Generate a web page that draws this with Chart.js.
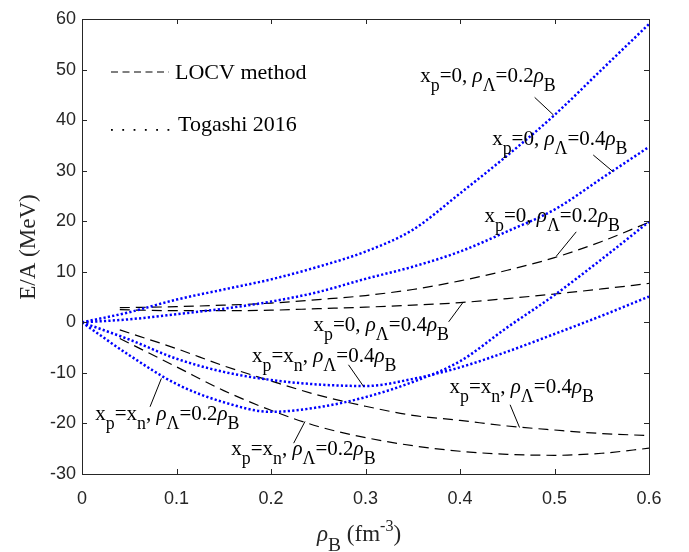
<!DOCTYPE html>
<html>
<head>
<meta charset="utf-8">
<script src="https://cdn.jsdelivr.net/npm/chart.js@4/dist/chart.umd.min.js"></script>
<style>
  html, body { margin: 0; padding: 0; background: #fff; }
  #wrap { width: 689px; height: 552px; }
</style>
</head>
<body>
<div id="wrap"><canvas id="myChart" width="689" height="552"></canvas></div>
<script>
'use strict'

// densities (fm^-3)
const rhoTogashi = [0, 0.05, 0.1, 0.15, 0.2, 0.25, 0.3, 0.35, 0.4, 0.45, 0.5, 0.55, 0.6];
const rhoLocv = [0.04, 0.1, 0.15, 0.2, 0.25, 0.3, 0.35, 0.4, 0.45, 0.5, 0.55, 0.6];

// Togashi 2016 (blue dotted)
const togashiNeut02 = [0, 2.0, 4.5, 6.5, 8.5, 11, 14, 18.3, 25.5, 33, 41, 50, 59];
const togashiNeut04 = [0, 0.6, 1.6, 2.7, 4.1, 6, 8.6, 11, 14, 18, 22.3, 28.5, 34.7];
const togashiSym04 = [0, -3.4, -7.2, -9.8, -11.4, -12.3, -12.6, -11.2, -8.9, -5.8, -2.3, 1.3, 5.1];
const togashiSym02 = [0, -6.5, -12.2, -15.8, -17.7, -16.8, -14.8, -11.8, -7.7, -1, 5.4, 12.5, 19.9];

// LOCV method (black dashed)
const locvNeut02 = [2.9, 3.1, 3.4, 3.8, 4.5, 5.3, 6.5, 8.2, 10.3, 12.8, 16, 19.8];
const locvNeut04 = [2.5, 2.3, 2.3, 2.4, 2.7, 3.0, 3.4, 3.9, 4.7, 5.6, 6.6, 7.7];
const locvSym04 = [-1.5, -5.2, -8.6, -11.6, -14.4, -16.6, -18.4, -19.4, -20.5, -21.3, -22, -22.4];
const locvSym02 = [-3.2, -8.8, -13.5, -17.4, -20.6, -22.8, -24.4, -25.5, -26.1, -26.3, -25.9, -24.9];

const xTicks = [0, 0.1, 0.2, 0.3, 0.4, 0.5, 0.6];
const yTicks = [-30, -20, -10, 0, 10, 20, 30, 40, 50, 60];

const legendNames = ['LOCV method', 'Togashi 2016'];

// curve labels: text anchor and leader line, in data units
const curveLabels = [
  { xp: '0', lam: '0.2', at: [0.358, 47.6], from: [0.479, 44.5], to: [0.499, 41.0] },
  { xp: '0', lam: '0.4', at: [0.434, 35.1], from: [0.541, 33.1], to: [0.562, 29.8] },
  { xp: '0', lam: '0.2', at: [0.426, 19.8], from: [0.523, 17.9], to: [0.502, 13.1] },
  { xp: '0', lam: '0.4', at: [0.245, -1.8], from: [0.388, 0.1], to: [0.403, 3.9] },
  { xp: 'x', lam: '0.4', at: [0.180, -7.8], from: [0.282, -8.4], to: [0.298, -12.7] },
  { xp: 'x', lam: '0.2', at: [0.014, -19.3], from: [0.072, -16.7], to: [0.084, -11.1] },
  { xp: 'x', lam: '0.2', at: [0.158, -26.2], from: [0.224, -23.9], to: [0.236, -19.6] },
  { xp: 'x', lam: '0.4', at: [0.389, -14.0], from: [0.453, -16.3], to: [0.463, -20.8] }
];

const SERIF = '"Liberation Serif", "DejaVu Serif", serif';
const SANS = '"Liberation Sans", Arial, sans-serif';
const AXIS = '#262626';

function pts(xs, ys) {
  return xs.map((x, i) => ({ x: x, y: ys[i] }));
}

function togashiSet(ys) {
  return {
    data: pts(rhoTogashi, ys),
    borderColor: '#0000ff',
    borderWidth: 2.5,
    borderDash: [2.2, 2.2],
    pointRadius: 0,
    fill: false,
    cubicInterpolationMode: 'monotone'
  };
}

function locvSet(ys) {
  return {
    data: pts(rhoLocv, ys),
    borderColor: '#000000',
    borderWidth: 1.2,
    borderDash: [10, 6],
    pointRadius: 0,
    fill: false,
    cubicInterpolationMode: 'monotone'
  };
}

// draws a run of [text, kind] pieces, kind: n normal, i italic, sub, sup
function drawRich(ctx, x, y, parts, size) {
  let cx = x;
  for (let p of parts) {
    let txt = p[0], kind = p[1];
    let fs = size, dy = 0, style = '';
    if (kind === 'sub') { fs = size * 0.85; dy = size * 0.42; }
    if (kind === 'sup') { fs = size * 0.7; dy = -size * 0.42; }
    if (kind === 'i') { style = 'italic '; }
    ctx.font = style + fs + 'px ' + SERIF;
    ctx.fillText(txt, cx, y + dy);
    cx += ctx.measureText(txt).width;
  }
}

const overlay = {
  id: 'overlay',
  afterDraw(chart) {
    const ctx = chart.ctx;
    const xs = chart.scales.x, ys = chart.scales.y;
    const a = chart.chartArea;
    ctx.save();

    // box and inward ticks
    ctx.strokeStyle = AXIS;
    ctx.lineWidth = 1;
    ctx.setLineDash([]);
    ctx.strokeRect(a.left + 0.5, a.top + 0.5, a.right - a.left, a.bottom - a.top);
    ctx.beginPath();
    for (let t of xTicks) {
      let px = Math.round(xs.getPixelForValue(t)) + 0.5;
      ctx.moveTo(px, a.bottom); ctx.lineTo(px, a.bottom - 5);
      ctx.moveTo(px, a.top); ctx.lineTo(px, a.top + 5);
    }
    for (let t of yTicks) {
      let py = Math.round(ys.getPixelForValue(t)) + 0.5;
      ctx.moveTo(a.left, py); ctx.lineTo(a.left + 5, py);
      ctx.moveTo(a.right, py); ctx.lineTo(a.right - 5, py);
    }
    ctx.stroke();

    // legend
    ctx.fillStyle = '#000';
    ctx.strokeStyle = '#000';
    ctx.lineWidth = 1.2;
    ctx.beginPath();
    ctx.setLineDash([7, 4.5]);
    ctx.moveTo(111, 72); ctx.lineTo(169, 72);
    ctx.stroke();
    ctx.setLineDash([]);
    for (let k = 0; k < 6; k++) {
      ctx.fillRect(111 + k * 11.3, 129, 1.8, 1.8);
    }
    ctx.textBaseline = 'alphabetic';
    ctx.textAlign = 'left';
    ctx.font = '22px ' + SERIF;
    ctx.fillText(legendNames[0], 175, 79);
    ctx.fillText(legendNames[1], 178, 131);

    // curve labels with leader lines
    ctx.lineWidth = 1;
    for (let lb of curveLabels) {
      let tx = xs.getPixelForValue(lb.at[0]);
      let ty = ys.getPixelForValue(lb.at[1]);
      let parts = [['x', 'n'], ['p', 'sub']];
      if (lb.xp === '0') {
        parts.push(['=0, ', 'n']);
      } else {
        parts.push(['=x', 'n'], ['n', 'sub'], [', ', 'n']);
      }
      parts.push(['\u03C1', 'i'], ['\u039B', 'sub'], ['=' + lb.lam, 'n'], ['\u03C1', 'i'], ['B', 'sub']);
      drawRich(ctx, tx, ty, parts, 21);
      ctx.beginPath();
      ctx.moveTo(xs.getPixelForValue(lb.from[0]), ys.getPixelForValue(lb.from[1]));
      ctx.lineTo(xs.getPixelForValue(lb.to[0]), ys.getPixelForValue(lb.to[1]));
      ctx.stroke();
    }

    // x axis title
    ctx.fillStyle = '#262626';
    let xt = [['\u03C1', 'i'], ['B', 'sub'], [' (fm', 'n'], ['-3', 'sup'], [')', 'n']];
    drawRich(ctx, 317, 541, xt, 23);

    // y axis title
    ctx.save();
    ctx.translate(35, 247);
    ctx.rotate(-Math.PI / 2);
    ctx.textAlign = 'center';
    ctx.font = '23px ' + SERIF;
    ctx.fillText('E/A (MeV)', 0, 0);
    ctx.restore();

    ctx.restore();
  }
};

const myChart = new Chart(document.getElementById('myChart').getContext('2d'), {
  type: 'line',
  data: {
    datasets: [
      togashiSet(togashiNeut02),
      togashiSet(togashiNeut04),
      togashiSet(togashiSym04),
      togashiSet(togashiSym02),
      locvSet(locvNeut02),
      locvSet(locvNeut04),
      locvSet(locvSym04),
      locvSet(locvSym02)
    ]
  },
  options: {
    responsive: false,
    animation: false,
    events: [],
    layout: { padding: { top: 19, right: 40, left: 0, bottom: 0 } },
    plugins: { legend: { display: false }, tooltip: { enabled: false } },
    scales: {
      x: {
        type: 'linear',
        min: 0, max: 0.6,
        afterFit(scale) { scale.height = 78; },
        afterBuildTicks(scale) { scale.ticks = xTicks.map(v => ({ value: v })); },
        grid: { display: false, drawTicks: false },
        border: { display: false },
        ticks: {
          padding: 14,
          color: AXIS,
          font: { family: SANS, size: 18 },
          maxRotation: 0,
          callback: v => String(v)
        }
      },
      y: {
        type: 'linear',
        min: -30, max: 60,
        afterFit(scale) { scale.width = 82; },
        afterBuildTicks(scale) { scale.ticks = yTicks.map(v => ({ value: v })); },
        grid: { display: false, drawTicks: false },
        border: { display: false },
        ticks: {
          padding: 6,
          color: AXIS,
          font: { family: SANS, size: 18 },
          callback: v => String(v)
        }
      }
    }
  },
  plugins: [overlay]
});
</script>
</body>
</html>
